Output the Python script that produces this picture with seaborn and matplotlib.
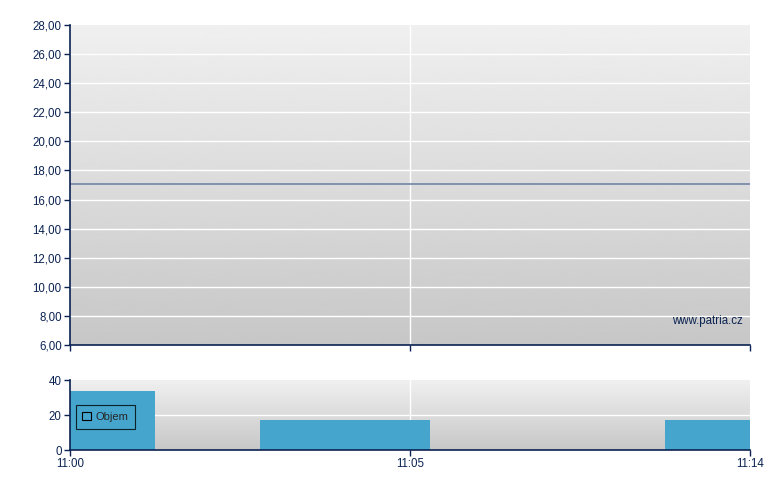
import numpy as np
import pandas as pd
import matplotlib
matplotlib.use("Agg")
import matplotlib.pyplot as plt
import seaborn as sns
from matplotlib.ticker import FuncFormatter, MultipleLocator

# --- data ---
tick_labels = ["11:00", "11:05", "11:14"]
trade_pos = [0.0, 0.81, 2.0]          # position of each trade on the index axis
price = [17.07, 17.07, 17.07]
volume = [34, 17, 17]

NAVY = "#0b2352"
BAR = "#45a5cc"
LINE = "#7b8aab"

sns.set_theme(style="white")
plt.rcParams["font.family"] = ["Liberation Sans", "DejaVu Sans"]

fig = plt.figure(figsize=(7.8, 4.9), dpi=100)
ax = fig.add_axes([70 / 780, 145 / 490, 680 / 780, 320 / 490])
axv = fig.add_axes([70 / 780, 40 / 490, 680 / 780, 70 / 490])

grad = np.linspace(0.94, 0.78, 256).reshape(-1, 1)


def style(a, ymin, ymax):
    a.set_xlim(0, 2)
    a.set_ylim(ymin, ymax)
    a.imshow(grad, extent=(0, 2, ymin, ymax), aspect="auto", cmap="gray",
             vmin=0, vmax=1, zorder=0, interpolation="bicubic")
    a.set_facecolor("white")
    for s in ("top", "right"):
        a.spines[s].set_visible(False)
    for s in ("left", "bottom"):
        a.spines[s].set_color(NAVY)
        a.spines[s].set_linewidth(1.2)
        a.spines[s].set_zorder(5)
    a.set_xticks([0, 1, 2])
    a.tick_params(axis="both", colors=NAVY, labelcolor=NAVY, labelsize=8.3,
                  length=4, width=1, direction="out", pad=2,
                  left=True, bottom=True)
    a.axvline(1, color="white", lw=1, zorder=1)


# price panel
style(ax, 6, 28)
ax.yaxis.set_major_locator(MultipleLocator(2))
ax.yaxis.set_major_formatter(FuncFormatter(lambda v, _: f"{v:.2f}".replace(".", ",")))
for y in range(8, 28, 2):
    ax.axhline(y, color="white", lw=1, zorder=1)
ax.set_xticklabels([])
df = pd.DataFrame({"x": trade_pos, "price": price})
sns.lineplot(data=df, x="x", y="price", ax=ax, color=LINE, lw=1.3, zorder=3)
ax.set_xlabel("")
ax.set_ylabel("")
ax.text(0.99, 0.055, "www.patria.cz", transform=ax.transAxes, ha="right",
        va="bottom", fontsize=8.3, color=NAVY)

# volume panel
style(axv, 0, 40)
axv.set_yticks([0, 20, 40])
axv.axhline(20, color="white", lw=1, zorder=1)
axv.bar(trade_pos, volume, width=0.5, color=BAR, edgecolor="none", linewidth=0,
        zorder=2, label="Objem")
axv.set_xticklabels(tick_labels)
leg = axv.legend(loc="upper left", bbox_to_anchor=(0.0, 0.72), frameon=True,
                 fancybox=False, fontsize=8, handlelength=0.8, handleheight=0.8,
                 borderpad=0.6, handletextpad=0.35, borderaxespad=0.5)
leg.get_frame().set_edgecolor("black")
leg.get_frame().set_facecolor("none")
leg.get_frame().set_linewidth(0.8)
h = leg.legend_handles[0]
h.set_facecolor("none")
h.set_edgecolor("black")
h.set_linewidth(0.8)

fig.savefig("out.png", dpi=100)
